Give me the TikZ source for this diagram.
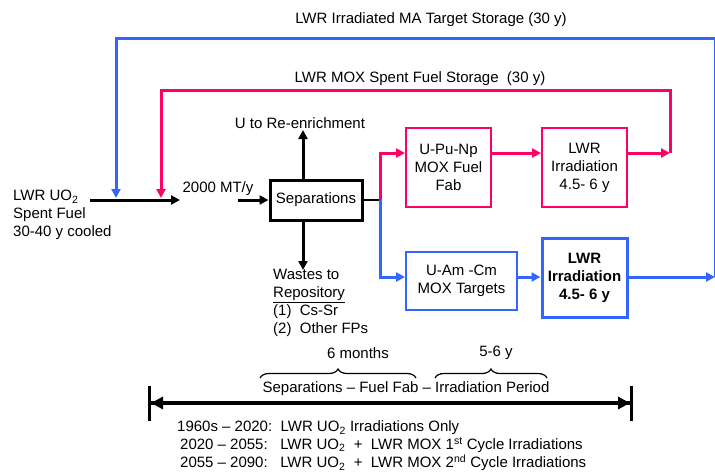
\documentclass[tikz,border=0pt]{standalone}
\usepackage{fontspec}
\setmainfont{Liberation Sans}
\usetikzlibrary{arrows.meta,decorations.pathreplacing}
\definecolor{moxpink}{RGB}{255,0,102}
\definecolor{mablue}{RGB}{51,102,255}

\begin{document}
\begin{tikzpicture}[x=1pt, y=-1pt,
  every node/.style={font=\fontsize{15}{18}\selectfont, inner sep=0pt},
  >={Triangle[length=9pt,width=9pt]},
  flow/.style={line width=3pt},
  pinkflow/.style={line width=3pt, draw=moxpink},
  blueflow/.style={line width=3pt, draw=mablue},
  pinkbox/.style={draw=moxpink, line width=2pt, align=center, minimum width=85pt, minimum height=79pt},
  bluebox/.style={draw=mablue, line width=2pt, align=center}]
\useasboundingbox (0,0) rectangle (715,472);

\node[align=left, anchor=west] (feed) at (13,215) {LWR UO\textsubscript{2}\\Spent Fuel\\30-40 y cooled};
\coordinate (f0) at (90,200);
\coordinate (f1) at (180,200);
\draw[flow,->] (f0) -- (f1);
\node (rate) at (218,189) {2000 MT/y};
\coordinate (s0) at (238,200);
\node[draw, line width=3pt, minimum width=92pt, minimum height=40pt] (sep) at (316,200) {Separations};
\draw[flow,->] (s0) -- (sep.west);

\coordinate (utip) at (303,130);
\node (ure) at (300,123) {U to Re-enrichment};
\draw[flow,->] (sep.north -| utip) -- (utip);
\coordinate (wtip) at (303,270);
\draw[flow,->] (sep.south -| wtip) -- (wtip);
\node[align=left, anchor=north west] (waste) at (273,269) {Wastes to\\\underline{Repository}\\(1)~~Cs-Sr\\(2)~~Other FPs};

\coordinate (split) at (380,200);
\draw[line width=2pt] (sep.east) -- (split);

\node[pinkbox] (fab) at (448.5,167.5) {U-Pu-Np\\MOX Fuel\\Fab};
\node[pinkbox] (pirr) at (584.5,167.5) {LWR\\Irradiation\\4.5- 6 y};
\coordinate (pk) at (380,153);
\coordinate (pr) at (670,153);
\coordinate (pl) at (161,90);
\draw[pinkflow,->] (split) -- (pk) -- (pk -| fab.west);
\draw[pinkflow,->] (fab.east |- pk) -- (pirr.west |- pk);
\draw[pinkflow,->] (pirr.east |- pk) -- (pr);
\draw[pinkflow,->] (pr) |- (pl) -- (pl |- 0,198);
\node (moxst) at (420,79) {LWR MOX Spent Fuel Storage~~(30 y)};

\node[bluebox, minimum width=111pt, minimum height=58pt] (targ) at (461.5,281) {U-Am -Cm\\MOX Targets};
\node[bluebox, line width=3pt, minimum width=85pt, minimum height=79pt, font=\fontsize{15}{18}\selectfont\bfseries] (birr) at (584.5,277.5) {LWR\\Irradiation\\4.5- 6 y};
\coordinate (bk) at (380,277);
\coordinate (br) at (715,277);
\coordinate (bl) at (116,38);
\draw[blueflow,->] (split) -- (bk) -- (bk -| targ.west);
\draw[blueflow,->] (targ.east |- bk) -- (birr.west |- bk);
\draw[blueflow,->] (birr.east |- bk) -- (br);
\draw[blueflow,->] (br) |- (bl) -- (bl |- 0,198);
\node (mast) at (431,20) {LWR Irradiated MA Target Storage (30 y)};

\coordinate (b1l) at (260,378);
\coordinate (b1r) at (416,378);
\coordinate (b2l) at (435,378);
\coordinate (b2r) at (547,378);
\draw[line width=1.2pt, decorate, decoration={brace, amplitude=9pt}] (b1l) -- (b1r);
\draw[line width=1.2pt, decorate, decoration={brace, amplitude=9pt}] (b2l) -- (b2r);
\node (sixm) at (358,353) {6 months};
\node (fivey) at (496,353) {5-6 y};
\node (period) at (406,389) {Separations -- Fuel Fab -- Irradiation Period};

\coordinate (t0) at (148,403);
\coordinate (t1) at (633,403);
\draw[line width=4pt, {Bar[width=35pt,line width=3pt]Triangle[length=12pt,width=12pt]}-{Triangle[length=12pt,width=12pt]Bar[width=35pt,line width=3pt]}] (t0) -- (t1);

\node[anchor=west] (era1) at (177,428) {1960s -- 2020:~~LWR UO\textsubscript{2} Irradiations Only};
\node[anchor=west] (era2) at (180,445) {2020 -- 2055:~~~LWR UO\textsubscript{2}~~+~~LWR MOX 1\textsuperscript{st} Cycle Irradiations};
\node[anchor=west] (era3) at (180,463) {2055 -- 2090:~~~LWR UO\textsubscript{2}~~+~~LWR MOX 2\textsuperscript{nd} Cycle Irradiations};
\end{tikzpicture}
\end{document}
